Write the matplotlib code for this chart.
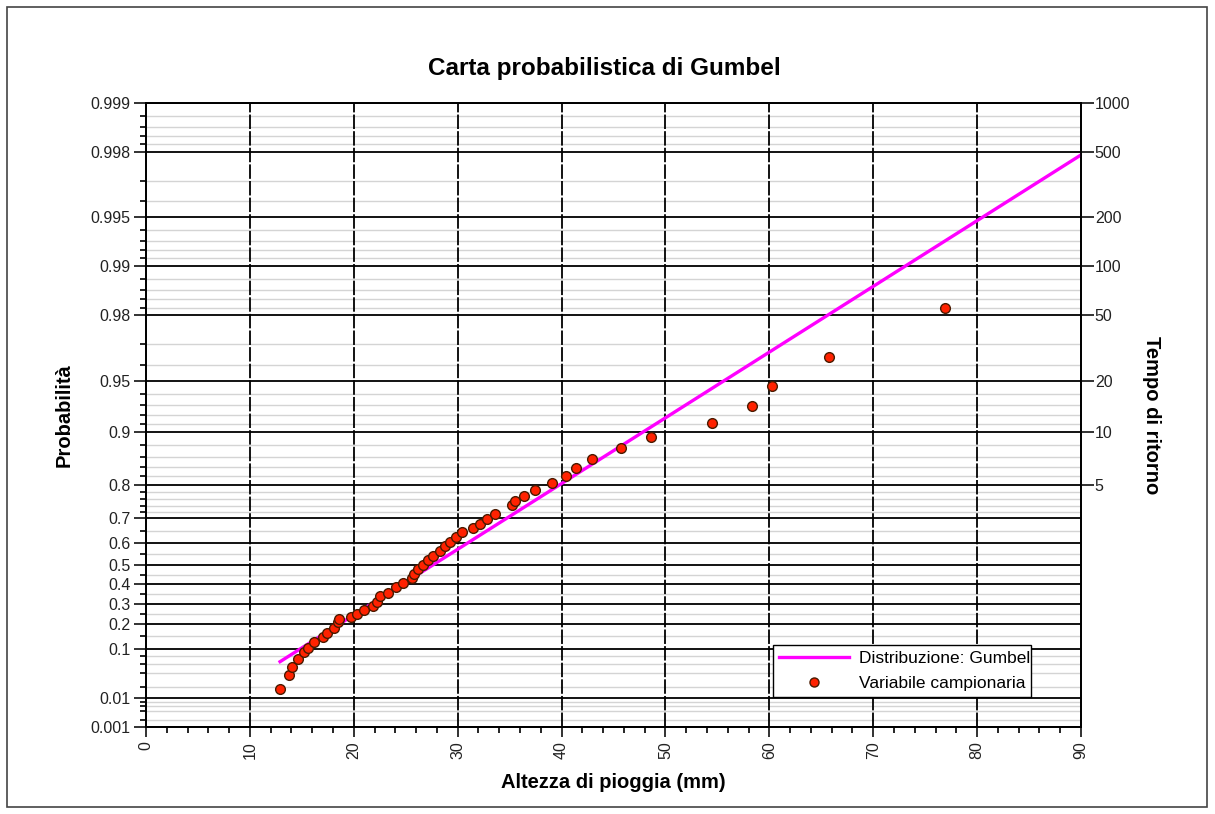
import matplotlib
matplotlib.use('Agg')
import matplotlib.pyplot as plt
from matplotlib.patches import Rectangle
from matplotlib.lines import Line2D
import numpy as np

plt.rcParams['font.family'] = ['Liberation Sans', 'DejaVu Sans']

title = "Carta probabilistica di Gumbel"
xlabel = "Altezza di pioggia (mm)"
ylabel = "Probabilità"
ylabel_right = "Tempo di ritorno"

# sample (altezza, probabilita')
altezza = [12.90, 13.76, 14.08, 14.60, 15.24, 15.62, 16.20, 17.06, 17.45, 18.09,
           18.51, 18.60, 19.73, 20.28, 20.98, 21.82, 22.20, 22.52, 23.32, 24.06,
           24.76, 25.57, 25.79, 26.21, 26.63, 27.17, 27.65, 28.30, 28.78, 29.26,
           29.84, 30.38, 31.44, 32.15, 32.79, 33.59, 35.23, 35.52, 36.38, 37.44,
           39.05, 40.40, 41.39, 42.96, 45.72, 48.60, 54.45, 58.30, 60.28, 65.77,
           76.90]
prob = [0.0177, 0.0365, 0.0528, 0.0715, 0.0928, 0.1037, 0.1248, 0.1462, 0.1625, 0.1814,
        0.2112, 0.2224, 0.2348, 0.2480, 0.2677, 0.2880, 0.3100, 0.3394, 0.3565, 0.3848,
        0.4086, 0.4313, 0.4533, 0.4771, 0.4983, 0.5226, 0.5417, 0.5650, 0.5874, 0.6060,
        0.6247, 0.6453, 0.6609, 0.6761, 0.6955, 0.7130, 0.7425, 0.7547, 0.7694, 0.7861,
        0.8048, 0.8215, 0.8390, 0.8568, 0.8756, 0.8930, 0.9106, 0.9293, 0.9465, 0.9642,
        0.9820]

# fitted Gumbel parameters
gumbel_u = 23.72
gumbel_alpha = 10.74
line_x = [12.9, 90.0]

p_major = [0.001, 0.01, 0.1, 0.2, 0.3, 0.4, 0.5, 0.6, 0.7, 0.8, 0.9,
           0.95, 0.98, 0.99, 0.995, 0.998, 0.999]
p_minor = [0.002, 0.004, 0.006, 0.008, 0.02, 0.04, 0.06, 0.08, 0.15, 0.25, 0.35,
           0.45, 0.55, 0.65, 0.72, 0.74, 0.76, 0.78, 0.82, 0.84, 0.86, 0.88,
           0.91, 0.92, 0.93, 0.94, 0.96, 0.97, 0.982, 0.984, 0.986, 0.988,
           0.991, 0.992, 0.993, 0.994, 0.996, 0.997, 0.9982, 0.9984, 0.9986, 0.9988]
tempo = [1000, 500, 200, 100, 50, 20, 10, 5]


def fwd(p):
  p = np.clip(np.asarray(p, dtype=float), 1e-12, 1 - 1e-12)
  return -np.log(-np.log(p))


def inv(y):
  return np.exp(-np.exp(-np.asarray(y, dtype=float)))


###

fig = plt.figure(figsize=(12.15, 8.14), dpi=100)
ax = fig.add_axes([0.1202, 0.1069, 0.7695, 0.7666])

ax.set_yscale('function', functions=(fwd, inv))
ax.set_xlim(0, 90)
ax.set_ylim(0.001, 0.999)

# grid
for p in p_minor:
  ax.axhline(p, color='#d4d4d4', lw=1.0, zorder=1)
for p in p_major:
  ax.axhline(p, color='black', lw=1.3, zorder=2)
for xv in range(10, 90, 10):
  ax.axvline(xv, color='black', lw=1.3, ls=(0, (8, 1.2)), zorder=2)

# distribution line
lx = np.linspace(line_x[0], line_x[1], 200)
ly = np.exp(-np.exp(-(lx - gumbel_u) / gumbel_alpha))
ax.plot(lx, ly, color='#ff00ff', lw=2.4, zorder=3)

# sample points
ax.plot(altezza, prob, 'o', ms=7, mfc='#ff2200', mec='#4a1a00', mew=1.0,
        ls='none', zorder=4)

ax.set_yticks(p_major)
ax.set_yticklabels([('%g' % p) for p in p_major])
ax.set_yticks(p_minor, minor=True)
ax.yaxis.set_minor_formatter(plt.NullFormatter())
ax.set_xticks(range(0, 91, 10))
ax.set_xticks(range(0, 91, 2), minor=True)
ax.tick_params(axis='x', which='major', labelrotation=90, length=7, width=1.3,
               labelsize=11.5, colors='#222222')
ax.tick_params(axis='x', which='minor', length=4, width=1.2)
ax.tick_params(axis='y', which='major', length=9, width=1.3, labelsize=11.5,
               colors='#222222', pad=2)
ax.tick_params(axis='y', which='minor', length=4, width=1.2)
for s in ax.spines.values():
  s.set_linewidth(1.3)

ax.set_xlabel(xlabel, fontsize=14.5, fontweight='bold', labelpad=10)
ax.set_ylabel(ylabel, fontsize=14.5, fontweight='bold', labelpad=12)
ax.set_title(title, fontsize=17.5, fontweight='bold', pad=20, x=0.49)

# right axis: return period
ax2 = ax.twinx()
ax2.set_yscale('function', functions=(fwd, inv))
ax2.set_ylim(0.001, 0.999)
ax2.set_yticks([1 - 1.0 / t for t in tempo])
ax2.set_yticklabels([str(t) for t in tempo])
ax2.yaxis.set_minor_locator(matplotlib.ticker.NullLocator())
ax2.tick_params(axis='y', length=9, width=1.3, labelsize=11.5, colors='#222222', pad=1)
ax2.set_ylabel(ylabel_right, fontsize=14.5, fontweight='bold', rotation=270,
               labelpad=22)
for s in ax2.spines.values():
  s.set_linewidth(1.3)

handles = [Line2D([], [], color='#ff00ff', lw=2.4),
           Line2D([], [], marker='o', ls='none', ms=6.5, mfc='#ff2200',
                  mec='#4a1a00', mew=1.0)]
leg = ax2.legend(handles, ['Distribuzione: Gumbel', 'Variabile campionaria'],
                 loc='lower left', bbox_to_anchor=(0.6706, 0.048, 0.276, 0.098),
                 mode='expand', fontsize=12.5, frameon=True, fancybox=False,
                 handlelength=4.0, handletextpad=0.6, borderaxespad=0,
                 labelspacing=0.55, borderpad=0.35)
leg.get_frame().set_edgecolor('black')
leg.get_frame().set_linewidth(1.0)
leg.get_frame().set_alpha(1)

fig.patches.append(Rectangle((7 / 1215, 7 / 814), 1200 / 1215, 800 / 814,
                             transform=fig.transFigure, fill=False,
                             edgecolor='#444444', lw=1.2))

plt.savefig('out.png')
